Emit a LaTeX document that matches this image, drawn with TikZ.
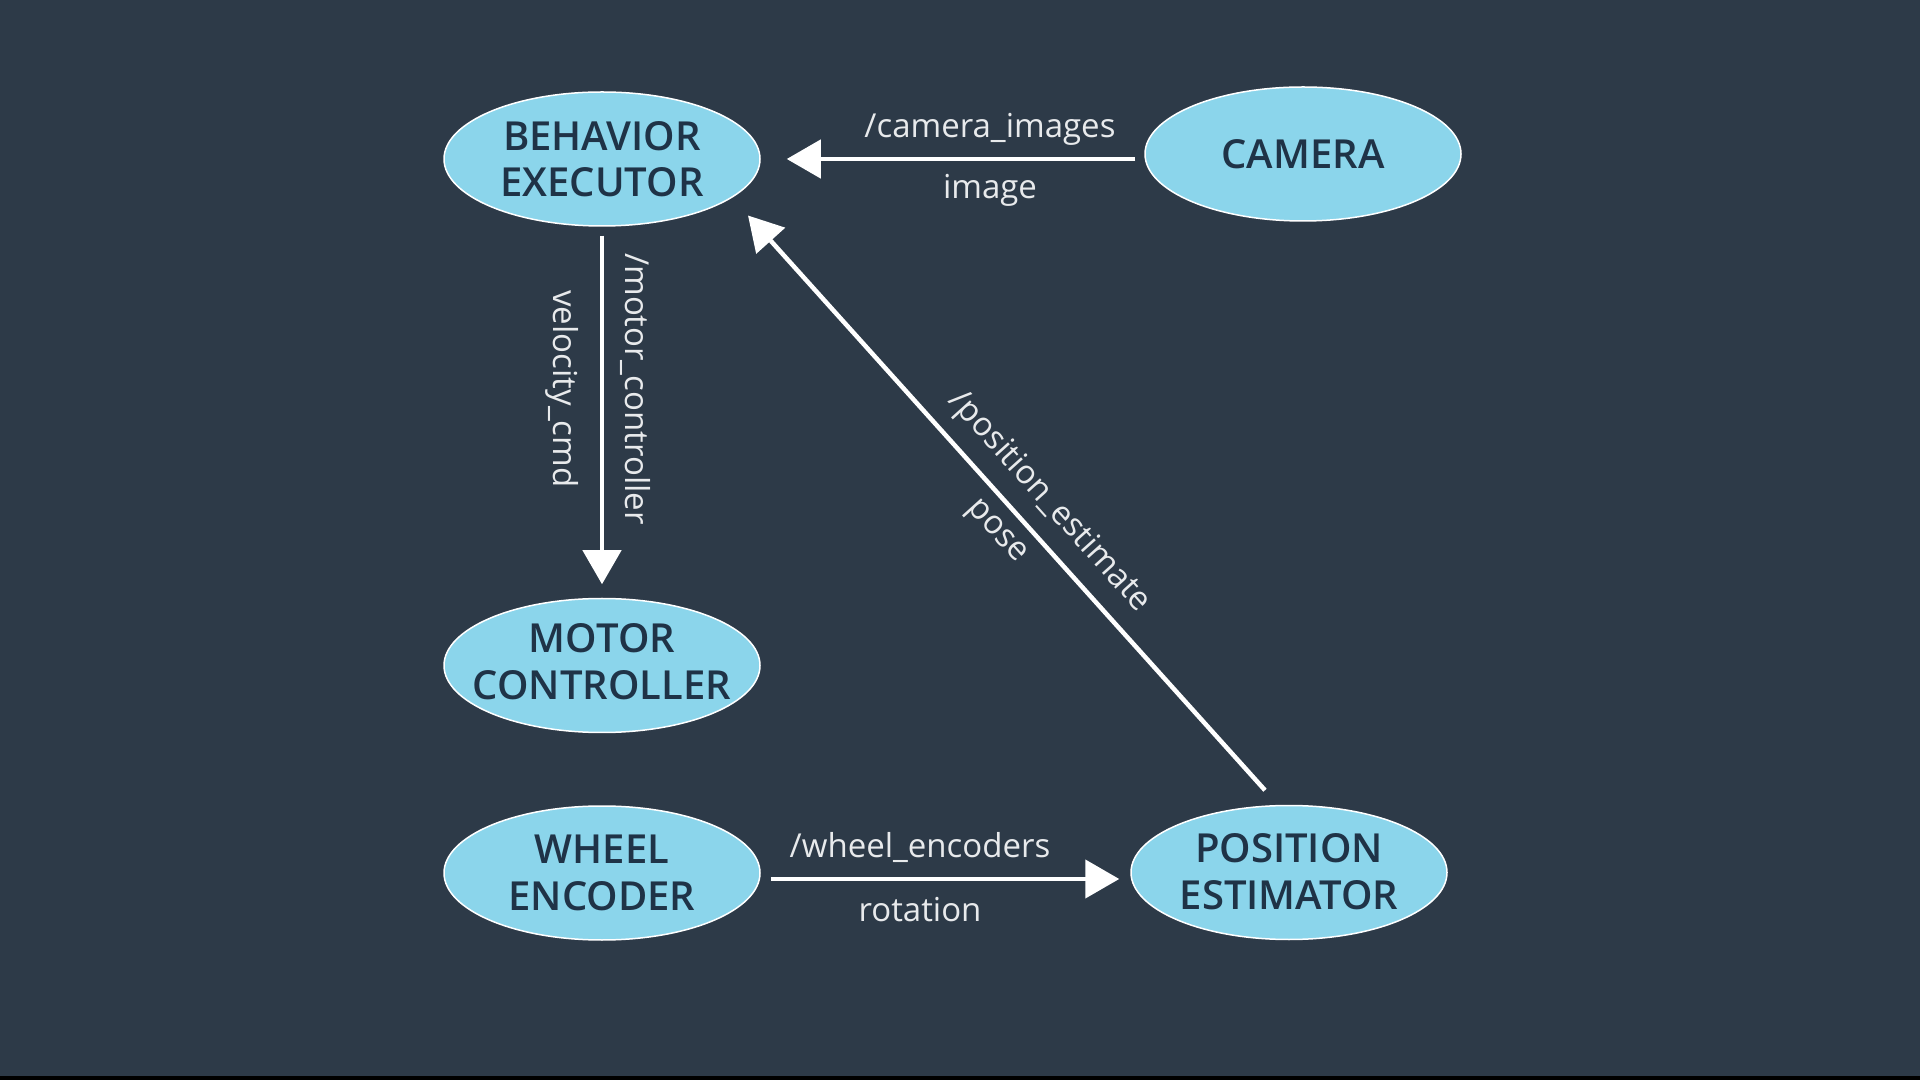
\documentclass[tikz,border=0pt]{standalone}
\usepackage{fontspec}
\setmainfont{Open Sans}
\newfontfamily\nodefont{Open Sans Semibold}
\usetikzlibrary{shapes.geometric,arrows.meta,calc}
\definecolor{bg}{HTML}{2D3A48}
\definecolor{nodefill}{HTML}{8BD5EB}
\definecolor{nodetext}{HTML}{1F3347}
\definecolor{lbltext}{HTML}{E8EAEC}

\begin{document}
\begin{tikzpicture}[x=1pt,y=1pt,
  proc/.style={ellipse, draw=white, line width=1.5pt, fill=nodefill,
    minimum width=316pt, minimum height=134pt, inner sep=0pt},
  proctext/.style={font=\nodefont\fontsize{40}{46.5}\selectfont,
    text=nodetext, align=center, inner sep=0pt},
  arr/.style={draw=white, line width=4.5pt,
    -{Triangle[length=34pt,width=38pt]}},
  lbl/.style={font=\fontsize{33}{39}\selectfont, text=lbltext, inner sep=0pt}
]
% background
\fill[bg] (0,0) rectangle (1920,1080);
\fill[black] (0,0) rectangle (1920,4);
\useasboundingbox (0,0) rectangle (1920,1080);

% nodes
\node[proc, label={[proctext]center:{BEHAVIOR\\EXECUTOR}}] (be) at (602,921) {};
\node[proc, label={[proctext]center:{CAMERA}}] (cam) at (1303,926) {};
\node[proc, label={[proctext, yshift=4pt]center:{MOTOR\\CONTROLLER}}] (mc) at (602,414.5) {};
\node[proc, label={[proctext]center:{WHEEL\\ENCODER}}] (we) at (602,207) {};
\node[proc, label={[proctext, yshift=1pt]center:{POSITION\\ESTIMATOR}}] (pe) at (1289,207.5) {};

% camera -> behavior executor
\draw[arr, shorten <=9pt, shorten >=26pt] (cam.west |- be.east) -- (be.east);
\node[lbl] (camtopic) at (990,951) {/camera\_images};
\node[lbl] (camtype) at (990,889.6) {image};

% behavior executor -> motor controller
\draw[arr, shorten <=9pt, shorten >=13.5pt] (be.south) -- (mc.north);
\node[lbl, rotate=-90] (mctopic) at (635,691) {/motor\_controller};
\node[lbl, rotate=-90] (mctype) at (562,691) {velocity\_cmd};

% position estimator -> behavior executor
\draw[arr] ($(pe.north)+(-24,14.5)$) -- ($(be.center)+(146,-56.5)$);
\node[lbl, rotate=-48] (petopic) at (1049,578) {/position\_estimate};
\node[lbl, rotate=-48] (petype) at (995.5,547.3) {pose};

% wheel encoder -> position estimator
\draw[arr, shorten <=10pt, shorten >=11pt] ($(we.east)+(0,-6)$) -- ($(pe.west)+(0,-6.5)$);
\node[lbl] (wetopic) at (920,232) {/wheel\_encoders};
\node[lbl] (wetype) at (920,170) {rotation};
\end{tikzpicture}
\end{document}
